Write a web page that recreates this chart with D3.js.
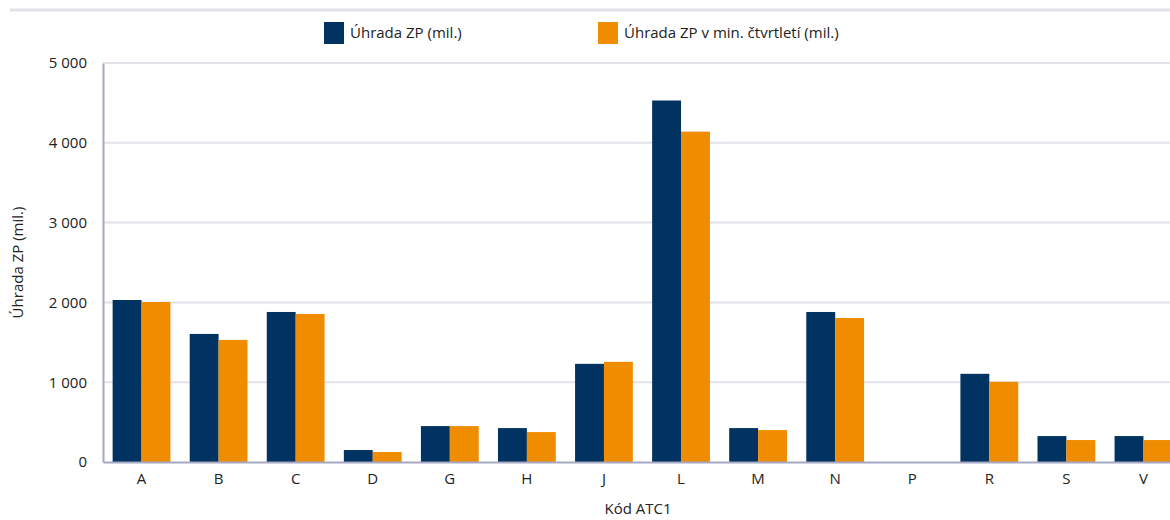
<!DOCTYPE html>
<html>
<head>
<meta charset="utf-8">
<script src="https://d3js.org/d3.v7.min.js"></script>
<style>
  body { margin: 0; background: #fff; }
  text { font-family: "Open Sans", sans-serif; fill: #222; }
</style>
</head>
<body>
<div id="chart"></div>
<script>

// data
var categories = ['A', 'B', 'C', 'D', 'G', 'H', 'J', 'L', 'M', 'N', 'P', 'R', 'S', 'V'];
var seriesNames = ['Úhrada ZP (mil.)', 'Úhrada ZP v min. čtvrtletí (mil.)'];
var current  = [2030, 1605, 1880, 150, 450, 425, 1230, 4530, 425, 1880, 0, 1105, 325, 325];
var previous = [2005, 1530, 1855, 125, 450, 375, 1255, 4140, 400, 1805, 0, 1005, 275, 275];
var yTicks = [0, 1000, 2000, 3000, 4000, 5000];

var colors = ['#003361', '#f08c00'];

var W = 1170, H = 520;
var margin = {top: 63, right: -12, bottom: 58, left: 103};
var width = W - margin.left - margin.right,
    height = H - margin.top - margin.bottom;

var svg = d3.select('#chart').append('svg')
  .attr('width', W)
  .attr('height', H);

// thin band at the very top
svg.append('line')
  .attr('x1', 10).attr('x2', W)
  .attr('y1', 10).attr('y2', 10)
  .attr('stroke', '#e2e2ea')
  .attr('stroke-width', 3);

var g = svg.append('g')
  .attr('transform', 'translate(' + margin.left + ',' + margin.top + ')');

var x = d3.scaleBand().domain(categories).range([0, width]).paddingInner(0.25).paddingOuter(0.125);
var x1 = d3.scaleBand().domain([0, 1]).range([0, x.bandwidth()]);
var y = d3.scaleLinear().domain([0, 5000]).range([height, 0]);

var fmt = function(d) { return d3.format(',')(d).replace(/,/g, ' '); };

// grid
g.append('g')
  .selectAll('line')
  .data(yTicks.slice(1))
  .enter().append('line')
    .attr('x1', 0).attr('x2', width)
    .attr('y1', function(d) { return y(d); })
    .attr('y2', function(d) { return y(d); })
    .attr('stroke', '#e2e2ea')
    .attr('stroke-width', 2);

// bars
var rows = categories.map(function(c, i) { return [current[i], previous[i]]; });
var groups = g.selectAll('.grp')
  .data(rows)
  .enter().append('g')
    .attr('class', 'grp')
    .attr('transform', function(d, i) { return 'translate(' + x(categories[i]) + ',0)'; });

groups.selectAll('rect')
  .data(function(d) { return d; })
  .enter().append('rect')
    .attr('x', function(d, j) { return x1(j); })
    .attr('y', function(d) { return y(d); })
    .attr('width', x1.bandwidth())
    .attr('height', function(d) { return height - y(d); })
    .attr('fill', function(d, j) { return colors[j]; });

// y axis
var yAxis = g.append('g')
  .call(d3.axisLeft(y).tickValues(yTicks).tickFormat(fmt).tickSize(0).tickPadding(16));
yAxis.select('.domain').attr('stroke', '#a6a8c4').attr('stroke-width', 2);
yAxis.selectAll('text').style('font-size', '15px');

// x axis
var xAxis = g.append('g')
  .attr('transform', 'translate(0,' + height + ')')
  .call(d3.axisBottom(x).tickSize(0).tickPadding(11));
xAxis.select('.domain').attr('stroke', '#a6a8c4').attr('stroke-width', 2);
xAxis.selectAll('text').style('font-size', '15px');

// axis titles
svg.append('text')
  .attr('x', 638).attr('y', 514)
  .attr('text-anchor', 'middle')
  .style('font-size', '15px')
  .text('Kód ATC1');

svg.append('text')
  .attr('transform', 'translate(23,' + (margin.top + height / 2) + ') rotate(-90)')
  .attr('text-anchor', 'middle')
  .style('font-size', '15px')
  .text('Úhrada ZP (mil.)');

// legend
var legendX = [324, 598];
var legend = svg.selectAll('.leg')
  .data(seriesNames)
  .enter().append('g')
    .attr('class', 'leg')
    .attr('transform', function(d, i) { return 'translate(' + legendX[i] + ',22)'; });
legend.append('rect')
  .attr('width', 20).attr('height', 22)
  .attr('fill', function(d, i) { return colors[i]; });
legend.append('text')
  .attr('x', 26).attr('y', 16)
  .style('font-size', '15px')
  .text(function(d) { return d; });

</script>
</body>
</html>
